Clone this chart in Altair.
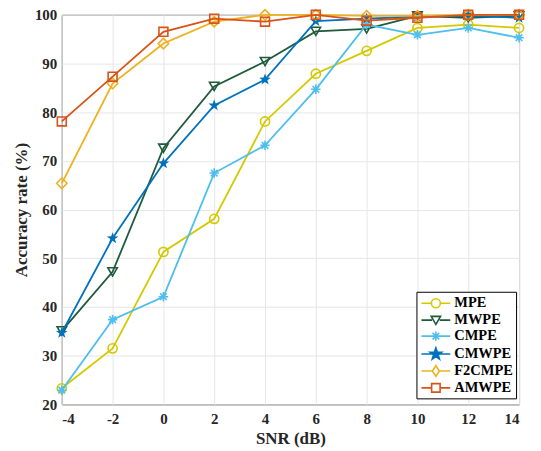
import math
import altair as alt
import pandas as pd

snr = [-4, -2, 0, 2, 4, 6, 8, 10, 12, 14]
names = ["MPE", "MWPE", "CMPE", "CMWPE", "F2CMPE", "AMWPE"]
mpe = [23.3, 31.5, 51.3, 58.1, 78.1, 87.9, 92.6, 97.3, 98.0, 97.3]
mwpe = [35.1, 47.2, 72.6, 85.3, 90.4, 96.6, 97.1, 99.8, 99.4, 99.8]
cmpe = [22.9, 37.4, 42.1, 67.5, 73.2, 84.7, 98.0, 95.9, 97.3, 95.3]
cmwpe = [34.7, 54.1, 69.5, 81.4, 86.7, 98.7, 99.2, 99.6, 99.8, 99.4]
f2cmpe = [65.4, 85.9, 94.1, 98.6, 100.0, 100.0, 99.8, 99.8, 100.0, 100.0]
amwpe = [78.1, 87.3, 96.5, 99.2, 98.6, 100.0, 98.8, 99.4, 100.0, 100.0]
series_values = [mpe, mwpe, cmpe, cmwpe, f2cmpe, amwpe]

colors = ["#D4C900", "#1E5B3A", "#4DBEEE", "#0072BD", "#EDB120", "#D95319"]

rows = []
for n, vals in zip(names, series_values):
    for s, v in zip(snr, vals):
        rows.append({"snr": s, "acc": v, "series": n})
df = pd.DataFrame(rows)

FONT = "Liberation Serif"


def star_path(R, r, cx=0.0):
    pts = []
    for i in range(10):
        ang = -math.pi / 2 + i * math.pi / 5
        rad = R if i % 2 == 0 else r
        pts.append((cx + rad * math.cos(ang), rad * math.sin(ang)))
    return "M" + "L".join(f"{x:.3f},{y:.3f}" for x, y in pts) + "Z"


asterisk = "M0,-1L0,1M-1,0L1,0M-0.7,-0.7L0.7,0.7M-0.7,0.7L0.7,-0.7"
marker_shapes = ["circle", "triangle-down", asterisk, star_path(1, 0.4), "diamond", "square"]
marker_sizes = [85, 90, 90, 150, 110, 80]
marker_filled = [False, False, False, True, False, False]

# legend symbols: line + marker (unit box of 15 px)
k = 17 / 15
L = 1.7 * k
def f(v):
    return f"{v * k:.3f}"
def seg(a):
    return f"M{-L:.3f},0L{-a * k:.3f},0M{a * k:.3f},0L{L:.3f},0"
full = f"M{-L:.3f},0L{L:.3f},0"
leg_shapes = [
    seg(0.53) + f"M{f(0.53)},0A{f(0.53)},{f(0.53)} 0 1,1 {f(-0.53)},0A{f(0.53)},{f(0.53)} 0 1,1 {f(0.53)},0",
    seg(0.45) + f"M{f(-0.55)},{f(-0.45)}L{f(0.55)},{f(-0.45)}L0,{f(0.5)}Z",
    full + f"M0,{f(-0.55)}L0,{f(0.55)}M{f(-0.55)},0L{f(0.55)},0M{f(-0.39)},{f(-0.39)}L{f(0.39)},{f(0.39)}M{f(-0.39)},{f(0.39)}L{f(0.39)},{f(-0.39)}",
    full + star_path(0.72 * k, 0.29 * k),
    seg(0.42) + f"M0,{f(-0.62)}L{f(0.42)},0L0,{f(0.62)}L{f(-0.42)},0Z",
    seg(0.5) + f"M{f(-0.5)},{f(-0.5)}L{f(0.5)},{f(-0.5)}L{f(0.5)},{f(0.5)}L{f(-0.5)},{f(0.5)}Z",
]
leg_fills = ["transparent", "transparent", "transparent", "#0072BD", "transparent", "transparent"]

x_enc = alt.X("snr:Q", scale=alt.Scale(domain=[-4, 14], nice=False),
              axis=alt.Axis(values=snr, title="SNR (dB)", labelExpr="datum.value + ''"))
y_enc = alt.Y("acc:Q", scale=alt.Scale(domain=[20, 100], nice=False),
              axis=alt.Axis(values=list(range(20, 101, 10)), title="Accuracy rate (%)"))
color_scale = alt.Scale(domain=names, range=colors)

layers = []
for i, n in enumerate(names):
    base = alt.Chart(df).transform_filter(alt.datum.series == n)
    layers.append(base.mark_line(strokeWidth=1.8, color=colors[i]).encode(x=x_enc, y=y_enc))
    layers.append(base.mark_point(shape=marker_shapes[i], size=marker_sizes[i], color=colors[i],
                                  filled=marker_filled[i], strokeWidth=1.6, opacity=1).encode(
        x=x_enc, y=y_enc))

dummy = alt.Chart(df).transform_filter("false").mark_point(size=225, strokeWidth=1.6, opacity=1).encode(
    x=x_enc, y=y_enc,
    color=alt.Color("series:N", scale=color_scale, title=None),
    shape=alt.Shape("series:N", scale=alt.Scale(domain=names, range=leg_shapes), title=None),
    fill=alt.Fill("series:N", scale=alt.Scale(domain=names, range=leg_fills), title=None),
)
layers.append(dummy)

chart = alt.layer(*layers).properties(
    width=459, height=391,
    autosize=alt.AutoSizeParams(type="none"),
    padding={"left": 54, "top": 6, "right": 14, "bottom": 46},
).configure_view(stroke="#262626", strokeWidth=1).configure_axis(
    labelFont=FONT, labelFontWeight="bold", labelFontSize=15, labelColor="#262626",
    titleFont=FONT, titleFontWeight="bold", titleFontSize=17, titleColor="#262626",
    grid=True, gridColor="#e6e6e6", gridWidth=1, domain=False, ticks=False,
).configure_axisX(labelPadding=7, titlePadding=4).configure_axisY(
    labelPadding=5, titlePadding=4
).configure_legend(
    orient="none", legendX=356, legendY=278,
    labelFont=FONT, labelFontWeight="bold", labelFontSize=14.5, labelColor="#000000",
    strokeColor="#000000", fillColor="#ffffff", padding=3, rowPadding=0,
    symbolOffset=8, labelOffset=10, symbolStrokeWidth=1.6, cornerRadius=0,
    symbolSize=225,
)

chart.save("out.html", embed_options={"renderer": "svg", "actions": False})
